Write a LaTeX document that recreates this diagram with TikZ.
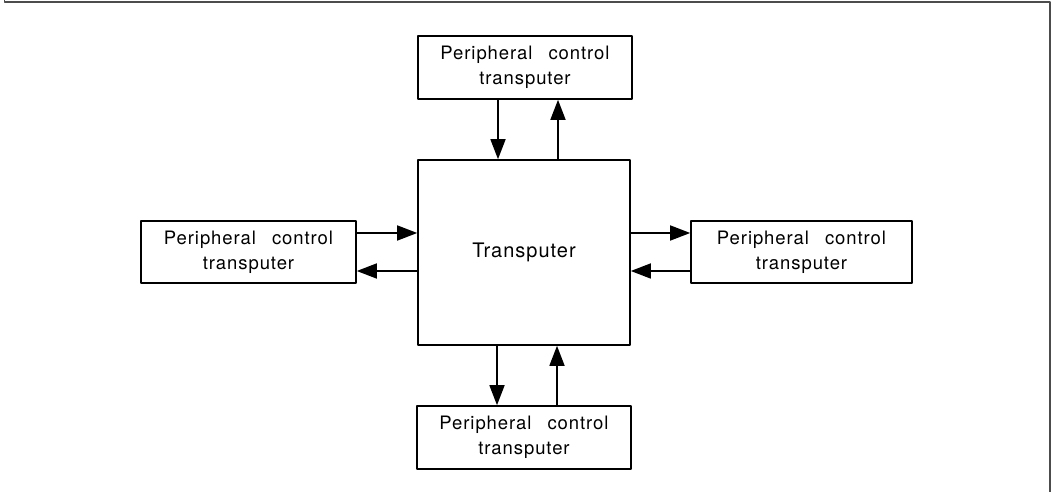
\documentclass[tikz,border=0pt]{standalone}
\usepackage{fontspec}
\usetikzlibrary{arrows.meta}
\newfontfamily\boxfont[LetterSpace=5]{TeX Gyre Heros}
\tikzset{
  unitbox/.style={draw,line width=1.6bp,inner sep=0pt,align=center,
    font=\boxfont\fontsize{18.5bp}{25bp}\selectfont},
  link/.style={line width=1.6bp,-{Triangle[length=20bp,width=15bp]}},
}
\begin{document}
\begin{tikzpicture}[line join=bevel,]
%%
\useasboundingbox (0bp,0bp) rectangle (1055bp,492bp);
\draw [line width=1.2bp,black!70] (4.5bp,492bp) -- (4.5bp,490bp) -- (1050bp,490bp) -- (1050bp,0bp);
\node (node_0) at (524.0bp,239.5bp) [unitbox,minimum width=212bp,minimum height=185bp,font=\boxfont\fontsize{20bp}{25bp}\selectfont] {Transputer};
  \node (node_1) at (525.0bp,424.5bp) [unitbox,minimum width=214bp,minimum height=63bp] {Peripheral\hspace{10bp} control\\transputer};
  \node (node_2) at (248.5bp,240.0bp) [unitbox,minimum width=215bp,minimum height=62bp] {Peripheral\hspace{10bp} control\\transputer};
  \node (node_3) at (801.5bp,240.0bp) [unitbox,minimum width=221bp,minimum height=62bp] {Peripheral\hspace{10bp} control\\transputer};
  \node (node_4) at (524.0bp,54.5bp) [unitbox,minimum width=214bp,minimum height=63bp] {Peripheral\hspace{10bp} control\\transputer};
  \draw [link] ([xshift=-27bp]node_1.south) -- ([xshift=-27bp]node_1.south |- node_0.north);
  \draw [link] ([xshift=33bp]node_1.south |- node_0.north) -- ([xshift=33bp]node_1.south);
  \draw [link] ([xshift=-27bp]node_4.north |- node_0.south) -- ([xshift=-27bp]node_4.north);
  \draw [link] ([xshift=33bp]node_4.north) -- ([xshift=33bp]node_4.north |- node_0.south);
  \draw [link] ([yshift=19bp]node_2.east) -- ([yshift=19bp]node_2.east -| node_0.west);
  \draw [link] ([yshift=-19bp]node_2.east -| node_0.west) -- ([yshift=-19bp]node_2.east);
  \draw [link] ([yshift=19bp]node_3.west -| node_0.east) -- ([yshift=19bp]node_3.west);
  \draw [link] ([yshift=-19bp]node_3.west) -- ([yshift=-19bp]node_3.west -| node_0.east);
%
\end{tikzpicture}
\end{document}
